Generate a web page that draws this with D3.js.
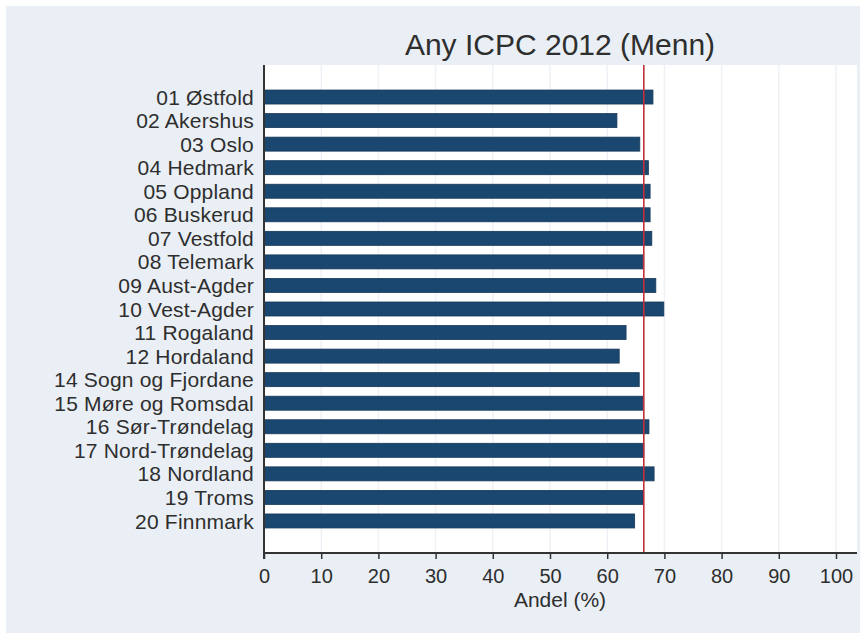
<!DOCTYPE html>
<meta charset="utf-8">
<style>
  body { margin: 0; background: #fff; }
  svg { display: block; }
  text { font-family: "Liberation Sans", Arial, sans-serif; fill: #2e2e2e; }
</style>
<svg width="866" height="635"></svg>
<script src="https://cdn.jsdelivr.net/npm/d3@7"></script>
<script>

var counties = ["01 Østfold", "02 Akershus", "03 Oslo", "04 Hedmark", "05 Oppland",
    "06 Buskerud", "07 Vestfold", "08 Telemark", "09 Aust-Agder", "10 Vest-Agder",
    "11 Rogaland", "12 Hordaland", "14 Sogn og Fjordane", "15 Møre og Romsdal",
    "16 Sør-Trøndelag", "17 Nord-Trøndelag", "18 Nordland", "19 Troms", "20 Finnmark"];

var andel = [68.0, 61.7, 65.7, 67.2, 67.5, 67.5, 67.8, 66.2, 68.5, 69.9,
    63.3, 62.1, 65.6, 66.2, 67.3, 66.4, 68.2, 66.3, 64.8];

var landet = 66.4;   // red reference line (whole country)

var xTicks = [0, 10, 20, 30, 40, 50, 60, 70, 80, 90, 100];

var svg = d3.select("svg"),
    plotL = 264, plotR = 857, plotT = 65, plotB = 553;

// outer panel
svg.append("rect")
    .attr("x", 6).attr("y", 6)
    .attr("width", 854).attr("height", 627)
    .attr("fill", "#e9eff5");

// plot region
svg.append("rect")
    .attr("x", plotL).attr("y", plotT)
    .attr("width", plotR - plotL).attr("height", plotB - plotT)
    .attr("fill", "#fff");

var x = d3.scaleLinear().domain([0, 100]).range([plotL, plotL + 572]);

var y = d3.scalePoint()
    .domain(counties)
    .range([plotT, plotB])
    .padding(1.36);

// faint gridlines
svg.append("g")
  .selectAll("line")
  .data(xTicks.slice(1))
  .enter().append("line")
    .attr("x1", function(d) { return x(d); })
    .attr("x2", function(d) { return x(d); })
    .attr("y1", plotT).attr("y2", plotB)
    .attr("stroke", "#eef2f6")
    .attr("stroke-width", 1.5);

// bars
svg.append("g")
  .selectAll("rect")
  .data(counties)
  .enter().append("rect")
    .attr("x", x(0))
    .attr("y", function(d) { return y(d) - 7; })
    .attr("width", function(d, i) { return x(andel[i]) - x(0); })
    .attr("height", 14)
    .attr("fill", "#1a476f")
    .attr("stroke", "#16395a")
    .attr("stroke-width", 0.8);

// reference line
svg.append("line")
    .attr("x1", x(landet)).attr("x2", x(landet))
    .attr("y1", plotT).attr("y2", plotB)
    .attr("stroke", "#c0303a")
    .attr("stroke-width", 1.6);

// x axis
var xAxis = svg.append("g")
    .attr("transform", "translate(0," + plotB + ")")
    .call(d3.axisBottom(x).tickValues(xTicks).tickSize(6).tickPadding(10));

xAxis.select(".domain").attr("stroke", "#333").attr("stroke-width", 2)
    .attr("d", "M" + plotL + ",0H" + plotR);
xAxis.selectAll(".tick line").attr("stroke", "#333").attr("stroke-width", 1.5);
xAxis.selectAll(".tick text")
    .style("font-family", "'Liberation Sans', Arial, sans-serif")
    .style("font-size", "20px")
    .attr("fill", "#2e2e2e");

// y axis (labels only)
svg.append("line")
    .attr("x1", plotL).attr("x2", plotL)
    .attr("y1", plotT).attr("y2", plotB + 6)
    .attr("stroke", "#333").attr("stroke-width", 2);

svg.append("g")
  .selectAll("text")
  .data(counties)
  .enter().append("text")
    .attr("x", plotL - 10)
    .attr("y", function(d) { return y(d); })
    .attr("dy", "0.36em")
    .attr("text-anchor", "end")
    .style("font-size", "21px")
    .style("letter-spacing", "0.2px")
    .text(function(d) { return d; });

// x label
svg.append("text")
    .attr("x", 560).attr("y", 607)
    .attr("text-anchor", "middle")
    .style("font-size", "21px")
    .text("Andel (%)");

// title
svg.append("text")
    .attr("x", 560).attr("y", 55)
    .attr("text-anchor", "middle")
    .style("font-size", "30px")
    .text("Any ICPC 2012 (Menn)");

</script>
